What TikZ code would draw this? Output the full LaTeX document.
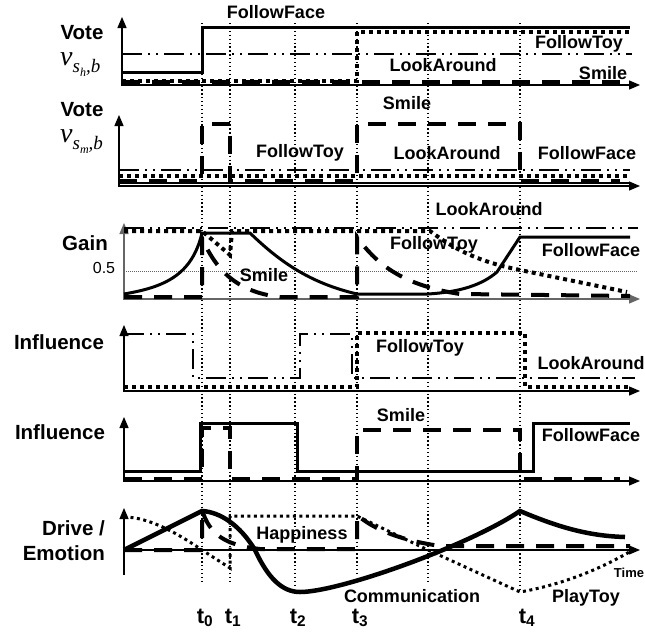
\documentclass[tikz,border=0pt]{standalone}
\usepackage{fontspec}
\setmainfont{Liberation Sans}
\newfontfamily\serifit{Liberation Serif}
\usetikzlibrary{arrows.meta}
\begin{document}
\begin{tikzpicture}[x=1pt,y=-1pt,
  ff/.style={line width=3pt},
  sm/.style={line width=4pt,dash pattern=on 18pt off 12pt},
  ft/.style={line width=2pt,dash pattern=on 20pt off 6pt on 2pt off 6pt on 2pt off 6pt},
  la/.style={line width=4pt,dash pattern=on 4pt off 4pt},
  tline/.style={line width=1.3pt,dash pattern=on 1.3pt off 2.6pt},
  axis/.style={line width=1.3pt,{Triangle[length=11pt,width=9pt]}-{Triangle[length=11pt,width=9pt]}},
  lab/.style={font=\fontsize{20.5}{22}\selectfont\bfseries,inner sep=0pt},
  cl/.style={font=\fontsize{18}{20}\selectfont\bfseries,inner sep=0pt},
  tl/.style={font=\fontsize{22}{24}\selectfont\bfseries,inner sep=0pt},
  vl/.style={inner sep=0pt,anchor=base west,font=\serifit\itshape\fontsize{28}{28}\selectfont},
]
\useasboundingbox (0,0) rectangle (645,635);

% time lines
\draw[tline] (202,23) -- (202,582);
\draw[tline] (230,23) -- (230,582);
\draw[tline] (295,23) -- (295,585);
\draw[tline] (357,23) -- (357,573);
\draw[tline] (428,23) -- (428,582);
\draw[tline] (520,23) -- (520,590);

% ---------- panel 1
\draw[axis] (122,17) |- (640,85);
\draw[ft] (122,54) -- (632,54);
\draw[la] (122,81) -- (357,81) -- (357,32) -- (630,32);
\draw[sm] (122,82) -- (630,82);
\draw[ff] (122,72) -- (202,72) -- (202,27) -- (630,27);
\node[lab] (vote1) at (82,33) {Vote};
\node[vl] (v1) at (60,65) {v\raisebox{-7pt}{\fontsize{19}{19}\selectfont s\raisebox{-4pt}{\fontsize{12}{12}\selectfont h},b}};
\node[cl] (p1ff) at (276,12) {FollowFace};
\node[cl] (p1ft) at (579,44) {FollowToy};
\node[cl] (p1la) at (443,65) {LookAround};
\node[cl] (p1sm) at (603,73) {Smile};

% ---------- panel 2
\draw[axis] (119,115) |- (640,186);
\draw[ft] (119,170) -- (630,170);
\draw[la] (119,176) -- (630,176);
\draw[line width=2pt] (119,183) -- (630,183);
\draw[sm] (119,181) -- (202,181) -- (202,124) -- (230,124) -- (230,181) -- (357,181) -- (357,124) -- (520,124) -- (520,181) -- (620,181);
\node[lab] (vote2) at (82,110) {Vote};
\node[vl] (v2) at (60,142) {v\raisebox{-7pt}{\fontsize{19}{19}\selectfont s\raisebox{-4pt}{\fontsize{12}{12}\selectfont m},b}};
\node[cl] (p2sm) at (407,103) {Smile};
\node[cl] (p2ft) at (300,153) {FollowToy};
\node[cl] (p2la) at (447,153) {LookAround};
\node[cl] (p2ff) at (587,153) {FollowFace};

% ---------- panel 3
\draw[axis,draw=black!60] (124,223) |- (640,299);
\draw[black!60,line width=0.6pt,dash pattern=on 1pt off 1pt] (124,271) -- (638,271);
\draw[ft] (124,228) -- (638,228);
\draw[la] (124,231) -- (202,231) -- (230,255) -- (232,231) -- (430,231)
  .. controls (455,250) and (480,262) .. (520,270) -- (627,292);
\draw[ff] (124,294) .. controls (165,287) and (192,275) .. (202,233) -- (250,233)
  .. controls (280,262) and (310,283) .. (357,294) -- (428,294)
  .. controls (460,292) and (482,285) .. (497,272) -- (520,237) -- (630,237);
\draw[sm] (124,297) -- (202,297) -- (202,238)
  .. controls (215,268) and (235,292) .. (280,297) -- (357,297) -- (357,237)
  .. controls (375,262) and (400,285) .. (460,294) -- (630,296);
\node[lab] (gain) at (85,243) {Gain};
\node[font=\fontsize{16}{16}\selectfont,inner sep=0pt] (half) at (104,268) {0.5};
\node[cl] (p3la) at (489,209) {LookAround};
\node[cl] (p3ft) at (434,245) {FollowToy};
\node[cl] (p3ff) at (591,250) {FollowFace};
\node[cl] (p3sm) at (264,275) {Smile};

% ---------- panel 4
\draw[axis] (124,325) |- (640,391);
\draw[ft] (124,334) -- (193,334) -- (193,378) -- (300,378) -- (300,334) -- (352,334) -- (352,378) -- (635,378);
\draw[la] (124,387) -- (357,387) -- (357,333) -- (525,333) -- (525,387) -- (630,387);
\node[lab] (infl1) at (59,342) {Influence};
\node[cl] (p4ft) at (420,348) {FollowToy};
\node[cl] (p4la) at (591,363) {LookAround};

% ---------- panel 5
\draw[axis] (124,417) |- (640,481);
\draw[sm] (124,479) -- (202,479) -- (202,428) -- (230,428) -- (230,479) -- (357,479) -- (357,430) -- (520,430) -- (520,479) -- (620,479);
\draw[ff] (124,471) -- (200,471) -- (200,423) -- (297,423) -- (297,471) -- (533,471) -- (533,423) -- (630,423);
\node[lab] (infl2) at (60,432) {Influence};
\node[cl] (p5sm) at (401,415) {Smile};
\node[cl] (p5ff) at (591,435) {FollowFace};

% ---------- panel 6
\draw[line width=1.3pt,-{Triangle[length=11pt,width=9pt]}] (124,575) -- (124,508);
\draw[line width=1.3pt,-{Triangle[length=11pt,width=9pt]}] (124,550) -- (640,550);
\draw[line width=3pt,dash pattern=on 3pt off 3.5pt] (124,517) .. controls (150,517) and (180,535) .. (202,550) -- (230,568) -- (230,516) -- (357,516)
  -- (428,550) -- (520,592) .. controls (560,585) and (600,570) .. (636,548);
\draw[sm] (124,550) -- (202,550) -- (202,510)
  .. controls (210,535) and (225,545) .. (260,549) -- (357,549) -- (357,515)
  .. controls (375,530) and (400,540) .. (440,546) -- (630,546);
\draw[line width=4.5pt] (124,550) -- (202,511) .. controls (220,512) and (240,525) .. (255,550)
  .. controls (268,578) and (282,592) .. (300,592)
  .. controls (340,592) and (470,545) .. (520,511)
  .. controls (560,528) and (590,536) .. (625,537);
\node[lab,anchor=east] (drive) at (105,528) {Drive /};
\node[lab,anchor=east] (emotion) at (105,553) {Emotion};
\node[cl] (happy) at (302,535) {Happiness};
\node[cl] (comm) at (412,596) {Communication};
\node[cl] (play) at (586,598) {PlayToy};
\node[font=\fontsize{13}{13}\selectfont\bfseries,inner sep=0pt] (time) at (629,573) {Time};

% time labels
\node[tl] (t0) at (205,618) {t\textsubscript{0}};
\node[tl] (t1) at (233,618) {t\textsubscript{1}};
\node[tl] (t2) at (298,618) {t\textsubscript{2}};
\node[tl] (t3) at (360,618) {t\textsubscript{3}};
\node[tl] (t4) at (527,618) {t\textsubscript{4}};
\end{tikzpicture}
\end{document}
